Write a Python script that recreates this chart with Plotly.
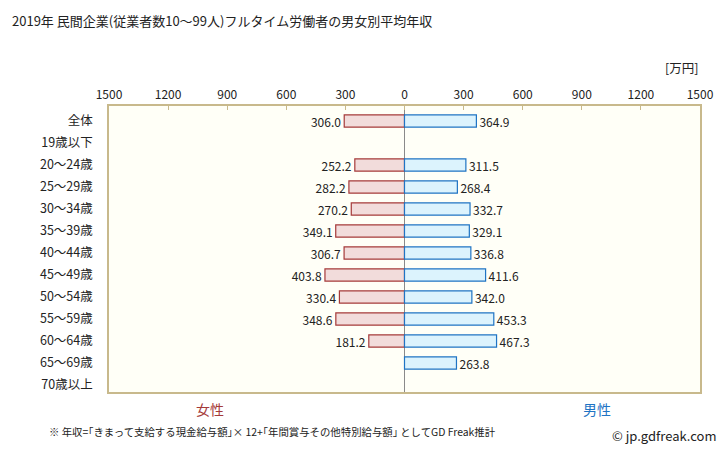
import plotly.graph_objects as go

categories = ["全体", "19歳以下", "20〜24歳", "25〜29歳", "30〜34歳", "35〜39歳", "40〜44歳",
              "45〜49歳", "50〜54歳", "55〜59歳", "60〜64歳", "65〜69歳", "70歳以上"]
female = [306.0, None, 252.2, 282.2, 270.2, 349.1, 306.7, 403.8, 330.4, 348.6, 181.2, None, None]
male = [364.9, None, 311.5, 268.4, 332.7, 329.1, 336.8, 411.6, 342.0, 453.3, 467.3, 263.8, None]
tick_vals = [-1500, -1200, -900, -600, -300, 0, 300, 600, 900, 1200, 1500]
tick_text = ["1500", "1200", "900", "600", "300", "0", "300", "600", "900", "1200", "1500"]

FONT = "Noto Sans CJK JP"
W, H = 728, 451
L, R, T, B = 109, 28, 106, 59

fem_x = [-v if v is not None else None for v in female]
fem_t = [f"{v:.1f}" if v is not None else "" for v in female]
male_t = [f"{v:.1f}" if v is not None else "" for v in male]

fig = go.Figure()
fig.add_trace(go.Bar(
    y=categories, x=fem_x, orientation="h", name="女性",
    marker=dict(color="#f2dcdb", line=dict(color="#a53a3a", width=1.2)),
    text=fem_t, textposition="outside", cliponaxis=False, constraintext="none",
    textfont=dict(size=12, color="#222", family=FONT), hoverinfo="skip",
))
fig.add_trace(go.Bar(
    y=categories, x=male, orientation="h", name="男性",
    marker=dict(color="#dcf3fd", line=dict(color="#1f74c4", width=1.2)),
    text=male_t, textposition="outside", cliponaxis=False, constraintext="none",
    textfont=dict(size=12, color="#222", family=FONT), hoverinfo="skip",
))

n = len(categories)
fig.update_layout(
    width=W, height=H,
    margin=dict(l=L, r=R, t=T, b=B),
    paper_bgcolor="white", plot_bgcolor="#fffff7",
    barmode="relative", bargap=0.45,
    showlegend=False,
    font=dict(family=FONT, size=12, color="#222"),
    xaxis=dict(range=[-1500, 1500], tickvals=tick_vals, ticktext=tick_text,
               side="top", showgrid=False, zeroline=True, zerolinecolor="#8a8a8a",
               zerolinewidth=1, showline=True, linecolor="#c8b98c", linewidth=1.5,
               mirror=True, ticks="inside", ticklen=4, tickcolor="#c8b98c",
               tickfont=dict(size=12, color="#222", family=FONT), fixedrange=True),
    yaxis=dict(range=[n - 1 + 7 / 22, -15 / 22], showgrid=False, showline=True,
               linecolor="#c8b98c", linewidth=1.5, mirror=True, ticks="",
               ticklabelstandoff=12, tickfont=dict(size=12.5, color="#222", family=FONT)),
)

ann = [
    dict(text="2019年 民間企業(従業者数10〜99人)フルタイム労働者の男女別平均年収", x=10, y=20, size=13, color="#222", xanchor="left"),
    dict(text="[万円]", x=700, y=67, size=12.5, color="#222", xanchor="right"),
    dict(text="女性", x=210, y=409, size=14, color="#a53a3a", xanchor="center"),
    dict(text="男性", x=597, y=409, size=14, color="#1f74c4", xanchor="center"),
    dict(text="※ 年収=｢きまって支給する現金給与額｣× 12+｢年間賞与その他特別給与額｣ としてGD Freak推計", x=47, y=431, size=10.4, color="#222", xanchor="left"),
    dict(text="© jp.gdfreak.com", x=719, y=436, size=13, color="#222", xanchor="right"),
]
for a in ann:
    fig.add_annotation(text=a["text"], xref="paper", yref="paper",
                       x=(a["x"] - L) / (W - L - R),
                       y=1 - (a["y"] - T) / (H - T - B),
                       xanchor=a["xanchor"], yanchor="middle", showarrow=False,
                       font=dict(size=a["size"], color=a["color"], family=FONT))

fig.write_html("out.html", config={"displayModeBar": False},
               post_script="document.body.style.margin='0';document.body.style.padding='0';")
